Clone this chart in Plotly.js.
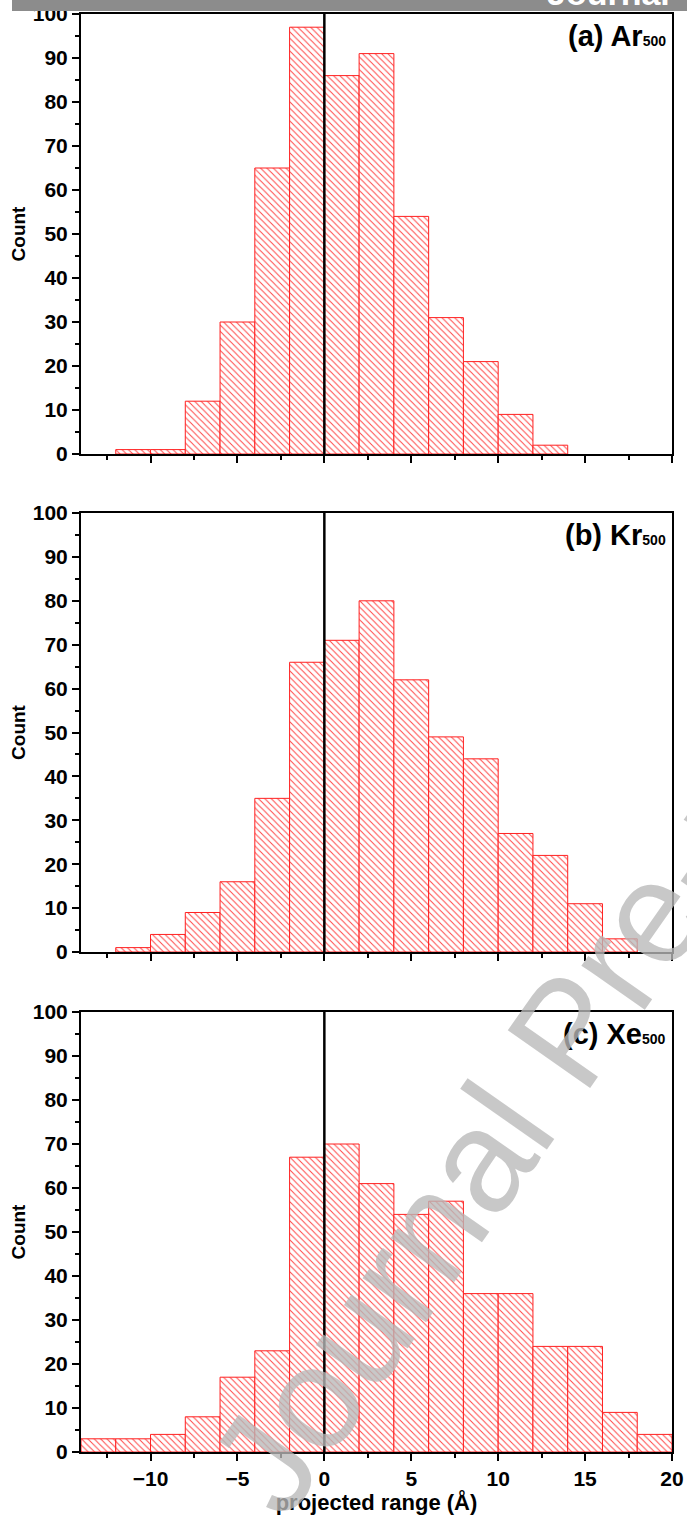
<!DOCTYPE html>
<html>
<head>
<meta charset="utf-8">
<script src="https://cdn.plot.ly/plotly-3.0.1.min.js"></script>
<style>html,body{margin:0;padding:0;background:#fff;}#chart{width:687px;height:1515px;}</style>
</head>
<body>
<div id="chart"></div>
<script>
// Bin centres (projected range, Å), bin width 2 Å
const binCenters = [-13, -11, -9, -7, -5, -3, -1, 1, 3, 5, 7, 9, 11, 13, 15, 17, 19];
// Counts per bin
const countsAr = [0, 1, 1, 12, 30, 65, 97, 86, 91, 54, 31, 21, 9, 2, 0, 0, 0];
const countsKr = [0, 1, 4, 9, 16, 35, 66, 71, 80, 62, 49, 44, 27, 22, 11, 3, 0];
const countsXe = [3, 3, 4, 8, 17, 23, 67, 70, 61, 54, 57, 36, 36, 24, 24, 9, 4];
const panelLabels = ['(a) Ar', '(b) Kr', '(c) Xe'];
const subLabel = '500';
const xTickVals = [-10, -5, 0, 5, 10, 15, 20];
const yTickVals = [0, 10, 20, 30, 40, 50, 60, 70, 80, 90, 100];

const FONT = '"Liberation Sans", Arial, Helvetica, sans-serif';

// layout geometry (pixels)
const W = 687, H = 1515, L = 81, R = 15, T = 14, B = 63;
const plotW = W - L - R, plotH = H - T - B;
const px2x = p => (p - L) / plotW;
const px2y = p => (H - B - p) / plotH;
const dom = (topPx, botPx) => [px2y(botPx), px2y(topPx)];

function barTrace(y, xa, ya) {
  const xs = [], ys = [];
  binCenters.forEach((c, i) => { if (y[i] > 0) { xs.push(c); ys.push(y[i]); } });
  return {
    type: 'bar', x: xs, y: ys, width: 2,
    xaxis: xa, yaxis: ya,
    marker: {
      color: '#ffffff',
      line: {color: '#ff2020', width: 1},
      pattern: {shape: '\\', fgcolor: '#ff3030', bgcolor: '#ffffff', size: 4.5, solidity: 0.22, fgopacity: 0.9}
    },
    hoverinfo: 'x+y', showlegend: false
  };
}

const data = [
  barTrace(countsAr, 'x', 'y'),
  barTrace(countsKr, 'x2', 'y2'),
  barTrace(countsXe, 'x3', 'y3')
];

const tickFont = {family: FONT, size: 21, color: '#000', weight: 'bold'};

function xAxis(anchor, showLabels) {
  return {
    anchor: anchor, range: [-14, 20], domain: [0, 1],
    tickmode: 'array', tickvals: xTickVals,
    showticklabels: showLabels,
    ticks: 'outside', ticklen: 7, tickwidth: 2, tickcolor: '#000',
    minor: {dtick: 2.5, tick0: 0, ticks: 'outside', ticklen: 4, tickwidth: 2, tickcolor: '#000', showgrid: false},
    showline: true, linecolor: '#000', linewidth: 2, mirror: true,
    showgrid: false, zeroline: false,
    tickfont: tickFont
  };
}
function yAxis(anchor, d) {
  return {
    anchor: anchor, domain: d, range: [0, 100],
    tickmode: 'array', tickvals: yTickVals,
    ticks: 'outside', ticklen: 7, tickwidth: 2, tickcolor: '#000',
    minor: {dtick: 5, tick0: 0, ticks: 'outside', ticklen: 4, tickwidth: 2, tickcolor: '#000', showgrid: false},
    showline: true, linecolor: '#000', linewidth: 2, mirror: true,
    showgrid: false, zeroline: false,
    tickfont: tickFont,
    title: {text: 'Count', font: {family: FONT, size: 19, color: '#000', weight: 'bold'}, standoff: 2}
  };
}

const xa3 = xAxis('y3', true);
xa3.title = {text: 'projected range (Å)', font: {family: FONT, size: 22, color: '#000', weight: 'bold'}, standoff: 2};

function panelAnn(i, xa) {
  return {
    text: panelLabels[i] + '<span style="font-size:14px">' + subLabel + '</span>',
    xref: xa + ' domain', yref: (xa === 'x' ? 'y' : 'y' + xa.slice(1)) + ' domain',
    x: 1, y: 0.95, xanchor: 'right', yanchor: 'middle', xshift: -4,
    showarrow: false, font: {family: FONT, size: 29, color: '#000', weight: 'bold'}
  };
}

const layout = {
  width: W, height: H,
  margin: {l: L, r: R, t: T, b: B},
  paper_bgcolor: '#fff', plot_bgcolor: '#fff',
  bargap: 0,
  xaxis: xAxis('y', false),
  xaxis2: xAxis('y2', false),
  xaxis3: xa3,
  yaxis: yAxis('x', dom(14, 454)),
  yaxis2: yAxis('x2', dom(513, 952)),
  yaxis3: yAxis('x3', dom(1012, 1452)),
  shapes: [
    {type: 'line', xref: 'x', yref: 'y domain', x0: 0, x1: 0, y0: 0, y1: 1, line: {color: '#000', width: 2.5}, layer: 'above'},
    {type: 'line', xref: 'x2', yref: 'y2 domain', x0: 0, x1: 0, y0: 0, y1: 1, line: {color: '#000', width: 2.5}, layer: 'above'},
    {type: 'line', xref: 'x3', yref: 'y3 domain', x0: 0, x1: 0, y0: 0, y1: 1, line: {color: '#000', width: 2.5}, layer: 'above'},
    {type: 'rect', xref: 'paper', yref: 'paper', x0: px2x(12), x1: px2x(700), y0: px2y(11), y1: px2y(-5), fillcolor: '#8c8c8c', line: {width: 0}, layer: 'above'}
  ],
  annotations: [
    panelAnn(0, 'x'), panelAnn(1, 'x2'), panelAnn(2, 'x3'),
    {text: 'Journal Pre-proof', xref: 'paper', yref: 'paper', x: px2x(567), y: px2y(1032), xanchor: 'center', yanchor: 'middle', textangle: -55, showarrow: false, font: {family: FONT, size: 146, color: 'rgba(185,185,185,0.78)'}},
    {text: 'Journal', xref: 'paper', yref: 'paper', x: px2x(672), y: px2y(14), xanchor: 'right', yanchor: 'bottom', showarrow: false, font: {family: FONT, size: 34, color: '#ffffff', weight: 'bold'}}
  ]
};

Plotly.newPlot('chart', data, layout, {displayModeBar: false, staticPlot: true});
</script>
</body>
</html>
